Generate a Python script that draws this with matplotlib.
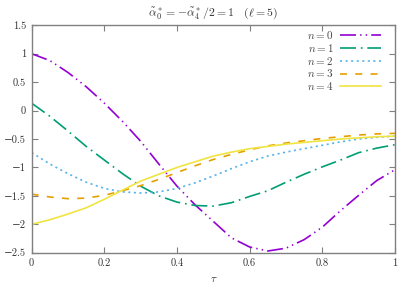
import matplotlib
matplotlib.use("Agg")
import matplotlib.pyplot as plt
from matplotlib.ticker import FuncFormatter

plt.rcParams['mathtext.fontset'] = 'cm'
plt.rcParams['font.family'] = ['cmr10', 'DejaVu Serif']
plt.rcParams['axes.formatter.use_mathtext'] = True
plt.rcParams['lines.scale_dashes'] = False

tau = [0.0, 0.05, 0.1, 0.15, 0.2, 0.25, 0.3, 0.35, 0.4, 0.45, 0.5,
       0.55, 0.6, 0.65, 0.7, 0.75, 0.8, 0.85, 0.9, 0.95, 1.0]
n0 = [1.00, 0.88, 0.67, 0.42, 0.13, -0.19, -0.54, -0.94, -1.33, -1.66, -1.95,
      -2.24, -2.40, -2.47, -2.42, -2.27, -2.05, -1.76, -1.49, -1.23, -1.04]
n1 = [0.13, -0.10, -0.36, -0.63, -0.87, -1.11, -1.33, -1.50, -1.61, -1.67, -1.68,
      -1.62, -1.51, -1.41, -1.26, -1.12, -0.99, -0.87, -0.74, -0.66, -0.60]
n2 = [-0.74, -0.94, -1.11, -1.26, -1.37, -1.43, -1.45, -1.43, -1.37, -1.27, -1.15,
      -1.02, -0.90, -0.80, -0.73, -0.67, -0.61, -0.55, -0.50, -0.47, -0.45]
n3 = [-1.47, -1.52, -1.55, -1.54, -1.49, -1.41, -1.32, -1.21, -1.09, -0.97, -0.86,
      -0.77, -0.69, -0.62, -0.57, -0.53, -0.49, -0.46, -0.43, -0.41, -0.40]
n4 = [-2.00, -1.92, -1.82, -1.71, -1.56, -1.40, -1.24, -1.12, -1.00, -0.90, -0.80,
      -0.73, -0.67, -0.63, -0.59, -0.56, -0.53, -0.50, -0.48, -0.46, -0.45]

series = [n0, n1, n2, n3, n4]
labels = [r'$n = 0$', r'$n = 1$', r'$n = 2$', r'$n = 3$', r'$n = 4$']
colors = ['#9400D3', '#009E73', '#56B4E9', '#E69F00', '#F0E442']
dashes = [(11.5, 3, 1, 3, 1, 3), (11.5, 3.5, 1.2, 3.5), (1.5, 2.5), (5, 6), None]

xticks = [0, 0.2, 0.4, 0.6, 0.8, 1]
yticks = [1.5, 1, 0.5, 0, -0.5, -1, -1.5, -2, -2.5]

fig = plt.figure(figsize=(3.98, 2.87), dpi=100)
ax = fig.add_axes([0.0796, 0.1195, 0.9129, 0.7923])

for y, lab, c, d in zip(series, labels, colors, dashes):
    line, = ax.plot(tau, y, color=c, lw=1.2, label=lab)
    if d is not None:
        line.set_dashes(d)

ax.set_xlim(0, 1)
ax.set_ylim(-2.5, 1.5)
ax.set_xticks(xticks)
ax.set_yticks(yticks)

def fmt(v, pos):
    s = ('%g' % v)
    return s.replace('-', '\u2212')

ax.xaxis.set_major_formatter(FuncFormatter(fmt))
ax.yaxis.set_major_formatter(FuncFormatter(fmt))
ax.tick_params(direction='in', top=True, right=True, length=4, width=0.8,
               color='#808080', labelsize=7.5, labelcolor='#333333', pad=4)
for s in ax.spines.values():
    s.set_color('#808080')
    s.set_linewidth(1.0)

ax.set_xlabel(r'$\tau$', fontsize=8, color='#333333', labelpad=5)
ax.set_title(r'$\tilde{\alpha}_0^* = -\tilde{\alpha}_4^*/2 = 1 \quad (\ell = 5)$',
             fontsize=8.5, color='#333333', pad=7)

leg = ax.legend(loc='upper right', bbox_to_anchor=(0.962, 0.985),
                frameon=False, markerfirst=False,
                fontsize=8, handlelength=3.7, handletextpad=0.6,
                labelspacing=0.08, borderaxespad=0.0, borderpad=0.0)
for t in leg.get_texts():
    t.set_color('#444444')

fig.savefig('out.png', dpi=100)
